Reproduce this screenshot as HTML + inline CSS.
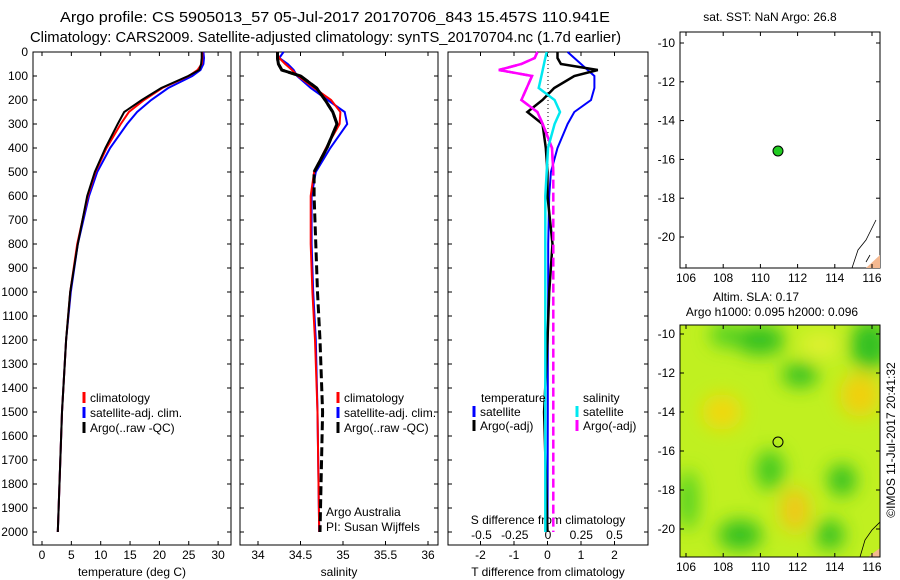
<!DOCTYPE html>
<html><head><meta charset="utf-8"><style>
html,body{margin:0;padding:0;background:#fff}
svg{display:block;font-family:"Liberation Sans",sans-serif;font-size:12px}
</style></head><body>
<svg id="c" width="900" height="580" xmlns="http://www.w3.org/2000/svg">
<defs>
<clipPath id="m2"><rect x="680" y="325" width="200" height="232"/></clipPath>
<filter id="bl"><feGaussianBlur stdDeviation="9"/></filter>
</defs>
<text x="60" y="22" textLength="550" lengthAdjust="spacingAndGlyphs" font-size="15">Argo profile: CS 5905013_57 05-Jul-2017 20170706_843 15.457S 110.941E</text>
<text x="30" y="42" textLength="591" lengthAdjust="spacingAndGlyphs" font-size="15">Climatology: CARS2009. Satellite-adjusted climatology: synTS_20170704.nc (1.7d earlier)</text>
<g id="plots"></g>
<text x="770" y="21" text-anchor="middle">sat. SST: NaN Argo: 26.8</text>
<rect x="680" y="32" width="200" height="236" fill="#fff" stroke="#000"/>
<path d="M852,268 L858,250 L866,240 L872,228 L876,220 M866,262 L870,255" fill="none" stroke="#000" stroke-width="0.8"/>
<path d="M866,268 L880,255 L880,268 Z" fill="#f4b890"/>
<circle cx="778" cy="151" r="5" fill="#22cc22" stroke="#000"/>
<text x="756" y="301" text-anchor="middle">Altim. SLA: 0.17</text>
<text x="772" y="316" text-anchor="middle">Argo h1000: 0.095 h2000: 0.096</text>
<g clip-path="url(#m2)">
<rect x="680" y="325" width="200" height="232" fill="#c0f020"/>
<g filter="url(#bl)">
<ellipse cx="725" cy="335" rx="15" ry="12" fill="#50d020"/>
<ellipse cx="760" cy="340" rx="25" ry="15" fill="#30c020"/>
<ellipse cx="870" cy="345" rx="20" ry="25" fill="#30c020"/>
<ellipse cx="800" cy="375" rx="18" ry="12" fill="#30c020"/>
<ellipse cx="722" cy="412" rx="20" ry="18" fill="#f0d810"/>
<ellipse cx="860" cy="395" rx="20" ry="22" fill="#f0d010"/>
<ellipse cx="820" cy="345" rx="20" ry="12" fill="#e0f030"/>
<ellipse cx="770" cy="470" rx="14" ry="20" fill="#40c820"/>
<ellipse cx="842" cy="480" rx="14" ry="16" fill="#30c020"/>
<ellipse cx="795" cy="510" rx="15" ry="22" fill="#f0c818"/>
<ellipse cx="740" cy="535" rx="22" ry="15" fill="#30c020"/>
<ellipse cx="830" cy="535" rx="14" ry="15" fill="#30c020"/>
<ellipse cx="688" cy="500" rx="10" ry="30" fill="#50d020"/>
</g>
<path d="M860,557 L865,540 L872,530 L880,522" fill="none" stroke="#000" stroke-width="0.8"/>
<path d="M868,557 L880,548 L880,557 Z" fill="#f4b890"/>
</g>
<rect x="680" y="325" width="200" height="232" fill="none" stroke="#000"/>
<circle cx="778" cy="442" r="5" fill="none" stroke="#000"/>
<text transform="translate(895,440) rotate(-90)" text-anchor="middle">©IMOS 11-Jul-2017 20:41:32</text>
<g id="maps"></g>
</svg>
<script>
// ---- data ----
const depths   = [0,25,50,75,100,150,200,250,300,400,500,600,800,1000,1200,1500,2000];
const tempClim = [27.3,27.3,27.2,26.5,25.0,20.5,17.4,14.8,13.4,11.0,9.1,7.8,6.0,4.8,4.1,3.4,2.7];
const tempSat  = [27.5,27.6,27.5,27.0,25.6,21.5,18.6,16.2,14.5,11.6,9.4,8.0,6.1,4.9,4.1,3.4,2.7];
const tempArgo = [27.2,27.2,27.1,26.8,24.9,20.3,17.0,14.0,12.9,10.8,9.0,7.7,6.1,4.8,4.1,3.4,2.7];
const salClim  = [34.22,34.25,34.32,34.40,34.47,34.66,34.86,34.97,34.96,34.80,34.66,34.62,34.62,34.64,34.67,34.70,34.72];
const salSat   = [34.30,34.25,34.35,34.42,34.46,34.62,34.82,35.02,35.05,34.85,34.68,34.63,34.63,34.65,34.68,34.70,34.72];
const salArgo  = [34.23,34.23,34.24,34.28,34.50,34.69,34.79,34.88,34.93,34.81,34.66,34.66,34.68,34.70,34.73,34.76,34.73];
const dTsat    = [0.6,0.8,1.0,1.2,1.4,1.4,1.3,0.8,0.6,0.3,0.1,0.05,0.02,0.02,0.01,0.01,0.0];
const dTargo   = [0.3,0.3,0.4,1.5,0.8,0.2,-0.15,-0.6,-0.15,-0.05,0.0,0.0,0.15,0.05,0.0,-0.1,0.0];
const dSsat    = [-0.01,-0.02,-0.03,-0.04,-0.05,-0.07,0.05,0.09,0.05,0.0,-0.01,-0.02,-0.02,-0.02,-0.02,-0.02,-0.02];
const dSargo   = [-0.08,-0.1,-0.2,-0.37,-0.12,-0.16,-0.2,-0.08,-0.04,0.03,0.04,0.04,0.04,0.04,0.04,0.04,0.04];
const depthTicks = [0,100,200,300,400,500,600,700,800,900,1000,1100,1200,1300,1400,1500,1600,1700,1800,1900,2000];
const tempTicks = [0,5,10,15,20,25,30];
const salTicks = [34,34.5,35,35.5,36];
const dTTicks = [-2,-1,0,1,2];
const dSTicks = [-0.5,-0.25,0,0.25,0.5];
const lonTicks = [106,108,110,112,114,116];
const latTicks = [-10,-12,-14,-16,-18,-20];
// ---- scales ----
const Y = d => 52 + d*0.24;
const TOP=52, BOT=545;
const XT = v => 42 + v*5.87;
const XS = v => 258 + (v-34)*85;
const XdT = v => 547.5 + v*33.5;
const XdS = v => 548 + v*133;
const NS='http://www.w3.org/2000/svg';
const g=document.getElementById('plots');
function el(t,a,p){const e=document.createElementNS(NS,t);for(const k in a)e.setAttribute(k,a[k]);(p||g).appendChild(e);return e;}
function txt(x,y,s,anchor,name){const e=el('text',{x:x,y:y,'text-anchor':anchor||'middle'});e.textContent=s;

return e;}
function line(vals,X,color,w,name,dash,n){const pts=vals.slice(0,n||vals.length).map((v,i)=>X(v).toFixed(1)+','+Y(depths[i]).toFixed(1)).join(' ');
const e=el('polyline',{points:pts,fill:'none',stroke:color,'stroke-width':w});if(dash)e.setAttribute('stroke-dasharray',dash);

}
function frame(x0,x1,name){const r=el('rect',{x:x0,y:TOP,width:x1-x0,height:BOT-TOP,fill:'none',stroke:'#000'});


depthTicks.forEach(d=>{el('line',{x1:x0,x2:x0+4,y1:Y(d),y2:Y(d),stroke:'#000'});el('line',{x1:x1,x2:x1-4,y1:Y(d),y2:Y(d),stroke:'#000'});});}
function legend(x,y,color,label,name){el('line',{x1:x,x2:x,y1:y-10,y2:y+1,stroke:color,'stroke-width':3});txt(x+6,y,label,'start',name);}
// panel 1
frame(33,231,'temperature-panel');
depthTicks.forEach(d=>txt(28,Y(d)+4,String(d),'end','depth-tick-label'));
tempTicks.forEach(v=>{el('line',{x1:XT(v),x2:XT(v),y1:BOT,y2:BOT-4,stroke:'#000'});el('line',{x1:XT(v),x2:XT(v),y1:TOP,y2:TOP+4,stroke:'#000'});txt(XT(v),559,String(v),'middle','temperature-tick-label');});
txt(132,576,'temperature (deg C)','middle','temperature-axis-title');
line(tempSat,XT,'#0000ff',2,'temperature-satellite-line');
line(tempClim,XT,'#ff0000',2,'temperature-climatology-line');
line(tempArgo,XT,'#000',2,'temperature-argo-line');
legend(84,402,'#ff0000','climatology','legend-climatology');
legend(84,417,'#0000ff','satellite-adj. clim.','legend-satellite');
legend(84,432,'#000','Argo(..raw -QC)','legend-argo');
// panel 2
frame(240,438,'salinity-panel');
salTicks.forEach(v=>{el('line',{x1:XS(v),x2:XS(v),y1:BOT,y2:BOT-4,stroke:'#000'});el('line',{x1:XS(v),x2:XS(v),y1:TOP,y2:TOP+4,stroke:'#000'});txt(XS(v),559,String(v),'middle','salinity-tick-label');});
txt(339,576,'salinity','middle','salinity-axis-title');
line(salSat,XS,'#0000ff',2,'salinity-satellite-line');
line(salClim,XS,'#ff0000',2,'salinity-climatology-line');
line(salArgo,XS,'#000',3,'salinity-argo-line','9,4');
line(salArgo,XS,'#000',3,'salinity-argo-line-upper',null,11);
legend(338,402,'#ff0000','climatology','legend-climatology-s');
legend(338,417,'#0000ff','satellite-adj. clim.','legend-satellite-s');
legend(338,432,'#000','Argo(..raw -QC)','legend-argo-s');
txt(326,516,'Argo Australia','start','argo-credit');
txt(326,531,'PI: Susan Wijffels','start','pi-credit');
// panel 3
frame(448,648,'difference-panel');
el('line',{x1:548,x2:548,y1:TOP,y2:200,stroke:'#000','stroke-dasharray':'1,3'});
dTTicks.forEach(v=>{el('line',{x1:XdT(v),x2:XdT(v),y1:BOT,y2:BOT-4,stroke:'#000'});el('line',{x1:XdT(v),x2:XdT(v),y1:TOP,y2:TOP+4,stroke:'#000'});txt(XdT(v),559,String(v),'middle','t-diff-tick-label');});
dSTicks.forEach(v=>txt(XdS(v),539,String(v),'middle','s-diff-tick-label'));
txt(548,524,'S difference from climatology','middle','s-diff-axis-title');
txt(548,576,'T difference from climatology','middle','t-diff-axis-title');
line(dTsat,XdT,'#0000ff',2,'t-diff-satellite-line');
line(dTargo,XdT,'#000',2.5,'t-diff-argo-line');
line(dSargo,XdS,'#ff00ff',2.5,'s-diff-argo-line','9,4');
line(dSargo,XdS,'#ff00ff',2.5,'s-diff-argo-line-upper',null,11);
line(dSsat,XdS,'#00e8f0',2.5,'s-diff-satellite-line');
txt(481,402,'temperature','start','legend-temperature-heading');
txt(583,402,'salinity','start','legend-salinity-heading');
legend(474,416,'#0000ff','satellite','legend-t-satellite');
legend(474,430,'#000','Argo(-adj)','legend-t-argo');
legend(577,416,'#00e8f0','satellite','legend-s-satellite');
legend(577,430,'#ff00ff','Argo(-adj)','legend-s-argo');
// map axes
const LX = v => 686 + (v-106)*18.6;
const m=document.getElementById('maps');
[[32,268,v=>43+(-10-v)*19.4],[325,557,v=>334+(-10-v)*19.5]].forEach(mp=>{
 lonTicks.forEach(v=>{el('line',{x1:LX(v),x2:LX(v),y1:mp[1],y2:mp[1]-4,stroke:'#000'},m);el('line',{x1:LX(v),x2:LX(v),y1:mp[0],y2:mp[0]+4,stroke:'#000'},m);
  const t=el('text',{x:LX(v),y:mp[1]+14,'text-anchor':'middle'},m);t.textContent=v;
  
  });
 latTicks.forEach(v=>{el('line',{x1:680,x2:684,y1:mp[2](v),y2:mp[2](v),stroke:'#000'},m);el('line',{x1:880,x2:876,y1:mp[2](v),y2:mp[2](v),stroke:'#000'},m);
  const t=el('text',{x:675,y:mp[2](v)+4,'text-anchor':'end'},m);t.textContent=String(v);
  
  });
});
</script>
</body></html>
